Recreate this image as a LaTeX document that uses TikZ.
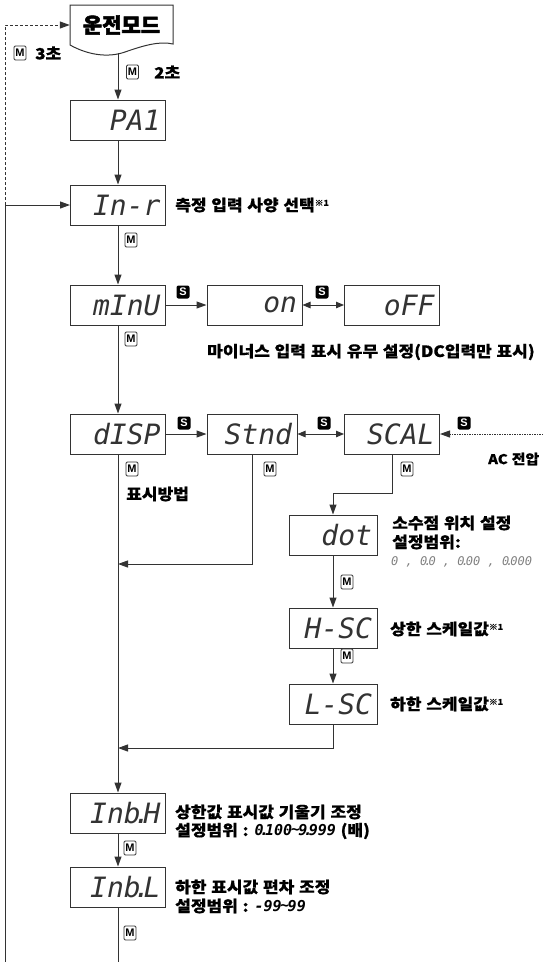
\documentclass[tikz,border=0pt]{standalone}
\usepackage{fontspec}
\usetikzlibrary{arrows.meta,calc}
\newfontfamily\krfont{Noto Sans CJK KR}[WordSpace=1.2, FakeStretch=1.1, BoldFeatures={FakeBold=0.6}]
\newfontfamily\krheavy{Noto Sans CJK KR}[BoldFeatures={FakeBold=2.5}]
\newfontfamily\segfont{DejaVu Sans Mono}
\newfontfamily\lsfont{Liberation Sans}
\definecolor{ln}{HTML}{333333}
\definecolor{sg}{HTML}{333333}
\definecolor{gr}{HTML}{808080}
\newcommand\sdot{\kern-.25em.\kern-.25em}
\newcommand\kome{\raisebox{5pt}{\fontsize{8}{8}\selectfont ※1}}
\newcommand\segi{\segfont\itshape}
\tikzset{
  ln/.style={draw=ln, line width=1pt},
  arr/.style={ln, -{Triangle[length=10pt,width=7pt]}},
  dbl/.style={ln, {Triangle[length=8pt,width=6.5pt]}-{Triangle[length=8pt,width=6.5pt]}},
  dasharr/.style={ln, dash pattern=on 3pt off 2pt, -{Triangle[length=10pt,width=7pt]}},
  dotarr/.style={ln, dash pattern=on 1.2pt off 1.3pt, -{Triangle[length=10pt,width=7pt]}},
  dbox/.style={draw=ln, line width=1pt, minimum height=40pt, inner xsep=5pt, inner ysep=0pt,
    text width=#1, align=right, text=sg, font=\segi\fontsize{28}{28}\selectfont},
  mk/.style={draw=ln, line width=0.8pt, rounded corners=1.2pt, minimum width=12pt, minimum height=14pt,
    inner sep=0pt, font=\lsfont\bfseries\fontsize{11}{11}\selectfont},
  sk/.style={fill=black, rounded corners=2pt, minimum width=13pt, minimum height=13pt, inner sep=0pt,
    text=white, font=\lsfont\bfseries\fontsize{11}{11}\selectfont},
  lab/.style={anchor=west, inner sep=0pt, font=\krfont\bfseries\fontsize{15.5}{16}\selectfont},
}
\begin{document}
\begin{tikzpicture}[x=1pt,y=-1pt]
\useasboundingbox (0,0) rectangle (543,962);
% mode (document shape)
\draw[ln, fill=white] (70,5) -- (173,5) -- (173,44) .. controls (160,41) and (145,45) .. (125,52)
  .. controls (108,58) and (88,55) .. (70,45) -- cycle;
\node[minimum width=103pt, minimum height=40pt, inner sep=0pt,
  font=\krheavy\bfseries\fontsize{21}{21}\selectfont] (mode) at (121.5,25) {운전모드};
\coordinate (modeb) at (118,53);

% display boxes
\node[dbox=85pt] (pa1) at (118,120) {PA1};
\node[dbox=85pt] (inr) at (118,205) {In-r};
\node[dbox=85pt] (minu) at (118,305) {mInU};
\node[dbox=85pt] (on) at (254.5,305) {on};
\node[dbox=85pt] (off) at (392,305) {oFF};
\node[dbox=85pt] (disp) at (118,434) {dISP};
\node[dbox=80pt] (stnd) at (252,434) {Stnd};
\node[dbox=85pt] (scal) at (392,434) {SCAL};
\node[dbox=78pt] (dot) at (333,535) {dot};
\node[dbox=78pt] (hsc) at (333,628) {H-SC};
\node[dbox=78pt] (lsc) at (333,704) {L-SC};
\node[dbox=85pt] (inbh) at (118,813) {Inb\sdot H};
\node[dbox=85pt] (inbl) at (118,887) {Inb\sdot L};

% helper coordinates
\coordinate (fbb) at (5,962);
\coordinate (fbj) at (5,205);
\coordinate (acin) at (543,434);
\coordinate (j1) at (118,564);
\coordinate (j2) at (392,493);
\coordinate (j3) at (118,748);
\coordinate (endb) at (118,962);

% connectors
\draw[arr] (modeb) -- (pa1);
\draw[arr] (pa1) -- (inr);
\draw[arr] (inr) -- (minu);
\draw[arr] (minu) -- (disp);
\draw[arr] (minu) -- (on);
\draw[dbl] (on) -- (off);
\draw[arr] (disp) -- (stnd);
\draw[dbl] (stnd) -- (scal);
\draw[dotarr] (acin) -- (scal);
\draw[arr] (disp) -- (inbh);
\draw[arr] (stnd) |- (j1);
\draw[arr] (scal) -- (j2) -| (dot);
\draw[arr] (dot) -- (hsc);
\draw[arr] (hsc) -- (lsc);
\draw[arr] (lsc) |- (j3);
\draw[arr] (inbh) -- (inbl);
\draw[ln] (inbl) -- (endb);
\draw[arr] (fbb) -- (fbj) -- (inr);
\draw[dasharr] (fbj) |- (mode);

% key labels
\node[mk] (m3) at (20,53) {M};
\node[lab] (t3) at (35,53) {3초};
\node[mk] (m2) at (132.5,72) {M};
\node[lab] (t2) at (154,72) {2초};
\node[mk] (mi) at (131,240) {M};
\node[mk] (mm) at (131,339) {M};
\node[mk] (md) at (132,469) {M};
\node[mk] (ms) at (270,469) {M};
\node[mk] (mc) at (407,469) {M};
\node[mk] (mdt) at (347,582) {M};
\node[mk] (mh) at (347,656) {M};
\node[mk] (mbh) at (130,848) {M};
\node[mk] (mbl) at (130,933) {M};
\node[sk] (s1) at (183,292) {S};
\node[sk] (s2) at (322,292) {S};
\node[sk] (s3) at (184,423) {S};
\node[sk] (s4) at (324,423) {S};
\node[sk] (s5) at (464,423) {S};

% texts
\node[lab] (l1) at (175,205) {측정 입력 사양 선택\kome};
\node[lab] (l2) at (207,352) {마이너스 입력 표시 유무 설정(DC입력만 표시)};
\node[anchor=west, inner sep=0pt, font=\krfont\bfseries\fontsize{13.5}{14}\selectfont] (l3) at (488,459) {AC 전압};
\node[lab] (l4) at (126,494) {표시방법};
\node[lab] (l5) at (392,523) {소수점 위치 설정};
\node[lab] (l6) at (392,542) {설정범위:};
\node[anchor=west, inner sep=0pt, text=gr, font=\segi\fontsize{12}{12}\selectfont] (l7) at (391,562)
  {0 , 0\sdot 0 , 0\sdot 00 , 0\sdot 000};
\node[lab] (l8) at (390,629) {상한 스케일값\kome};
\node[lab] (l9) at (390,704) {하한 스케일값\kome};
\node[lab] (l10) at (175,812) {상한값 표시값 기울기 조정};
\node[lab] (l11) at (175,831) {설정범위 : {\segi\bfseries\fontsize{15}{15}\selectfont 0\sdot 100\kern-.1em\raisebox{1pt}{\textasciitilde}\kern-.1em 9\sdot 999} (배)};
\node[lab] (l12) at (175,887) {하한 표시값 편차 조정};
\node[lab] (l13) at (175,906) {설정범위 : {\segi\bfseries\fontsize{15}{15}\selectfont -99\kern-.1em\raisebox{1pt}{\textasciitilde}\kern-.1em 99}};
\end{tikzpicture}
\end{document}
